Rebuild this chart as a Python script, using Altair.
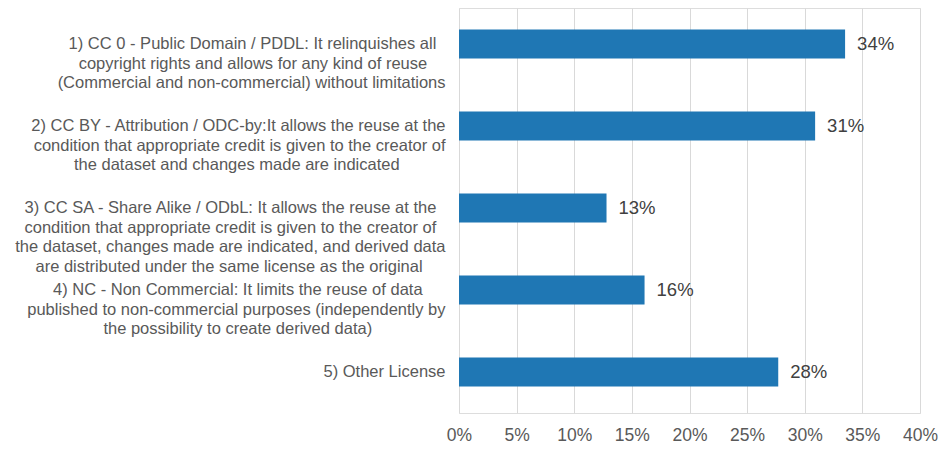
import altair as alt
import pandas as pd

licenses = [
    "1) CC 0 - Public Domain / PDDL: It relinquishes all\ncopyright rights and allows for any kind of reuse\n(Commercial and non-commercial) without limitations",
    "2) CC BY - Attribution / ODC-by:It allows the reuse at the\ncondition that appropriate credit is given to the creator of\nthe dataset and changes made are indicated",
    "3) CC SA - Share Alike / ODbL: It allows the reuse at the\ncondition that appropriate credit is given to the creator of\nthe dataset, changes made are indicated, and derived data\nare distributed under the same license as the original",
    "4) NC - Non Commercial: It limits the reuse of data\npublished to non-commercial purposes (independently by\nthe possibility to create derived data)",
    "5) Other License",
]
shares = [0.335, 0.309, 0.128, 0.161, 0.277]
tick_values = [0, 0.05, 0.10, 0.15, 0.20, 0.25, 0.30, 0.35, 0.40]

LABEL_FS = 16.5

# Approximate Arial / Liberation Sans advance widths (per 1000 em) used to centre lines in a block
W = {" ": 278, "\u00a0": 278, "!": 278, "(": 333, ")": 333, ",": 278, "-": 333, ".": 278, "/": 278, ":": 278, ";": 278}
for ch in "0123456789":
    W[ch] = 556
W.update(dict(zip("ABCDEFGHIJKLMNOPQRSTUVWXYZ",
                  [667, 667, 722, 722, 667, 611, 778, 722, 278, 500, 667, 556, 833, 722, 778, 667, 778, 722, 667, 611, 722, 667, 944, 667, 667, 611])))
W.update(dict(zip("abcdefghijklmnopqrstuvwxyz",
                  [556, 556, 500, 556, 556, 278, 556, 556, 222, 222, 500, 222, 833, 556, 556, 556, 556, 333, 500, 278, 556, 500, 722, 500, 500, 500])))


def width(s):
    return sum(W.get(c, 556) for c in s)


def centred(text):
    lines = text.split("\n")
    mw = max(width(l) for l in lines)
    out = []
    for l in lines:
        n = round((mw - width(l)) / 2 / 278)
        out.append(l + "\u00a0" * n + ("\u2060" if n else ""))
    return "|".join(out)


labels = [centred(t) for t in licenses]

df = pd.DataFrame({"label": labels, "share": shares})

y = alt.Y(
    "label:N",
    sort=None,
    title=None,
    scale=alt.Scale(paddingInner=0.646, paddingOuter=0.2925, align=0.45),
    axis=alt.Axis(
        labelExpr="split(datum.label, '|')",
        labelAlign="right",
        labelBaseline="middle",
        labelFontSize=LABEL_FS,
        labelLineHeight=19.5,
        labelColor="#595959",
        labelPadding=14,
        labelLimit=0,
        ticks=False,
        domain=False,
        grid=False,
    ),
)
x = alt.X(
    "share:Q",
    title=None,
    scale=alt.Scale(domain=[0, 0.4], nice=False),
    axis=alt.Axis(
        values=tick_values,
        format=".0%",
        grid=True,
        gridColor="#D9D9D9",
        gridWidth=1,
        ticks=False,
        domain=False,
        labelFontSize=17.5,
        labelColor="#595959",
        labelPadding=13,
        labelFlush=False,
        labelOverlap=False,
    ),
)

base = alt.Chart(df)
bars = base.mark_bar(color="#1F77B4").encode(x=x, y=y)
text = base.mark_text(align="left", baseline="middle", dx=12, fontSize=18.5, color="#404040").encode(
    x=x, y=y, text=alt.Text("share:Q", format=".0%")
)

chart = (
    (bars + text)
    .properties(
        width=461,
        height=405,
        autosize=alt.AutoSizeParams(type="none"),
        padding={"left": 451, "top": 0, "right": 18, "bottom": 35},
    )
    .configure_view(stroke=None)
    .configure(font="Liberation Sans")
)

chart.save("out.html", embed_options={"renderer": "svg", "actions": False})
